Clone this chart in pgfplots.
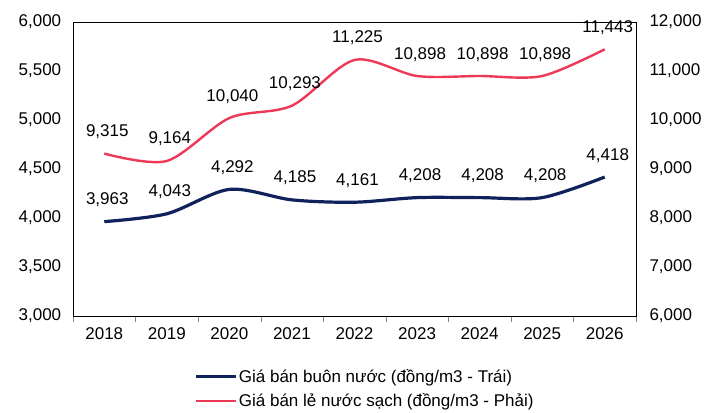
\documentclass[border=0pt]{standalone}
\usepackage{fontspec}
\setmainfont{Liberation Sans}
\usepackage{pgfplots}
\pgfplotsset{compat=1.18}

\definecolor{navy}{RGB}{16,34,92}
\definecolor{rose}{RGB}{238,56,88}

\pgfplotsset{
    base/.style={
        scale only axis,
        width=563pt, height=294pt,
        xmin=-0.5, xmax=8.5,
        font=\fontsize{17}{19}\selectfont,
        scaled y ticks=false,
        /pgf/number format/assume math mode=true,
        /pgf/number format/1000 sep={,},
        /pgf/number format/fixed,
        /pgf/number format/precision=0,
        nodes near coords,
        every node near coord/.append style={black, anchor=base, yshift=17pt, xshift=3pt,
            inner sep=0pt, font=\fontsize{17}{19}\selectfont},
    },
}

\begin{document}
\begin{tikzpicture}
    \begin{axis}[
        base,
        ymin=3000, ymax=6000,
        ytick distance=500,
        xtick={0,...,8},
        xticklabels={2018,2019,2020,2021,2022,2023,2024,2025,2026},
        major x tick style={draw=none},
        minor xtick={-0.5,0.5,...,8.5},
        minor tick length=6pt,
        tick align=outside,
        xtick pos=bottom,
        ytick style={draw=none},
        yticklabel style={xshift=-4pt},
        xticklabel style={yshift=-4pt},
        legend style={at={(0.518,-0.176)}, anchor=north, draw=none,
            legend cell align=left, row sep=8pt, inner sep=0pt,
            nodes={inner sep=1pt},
            font=\fontsize{17}{19}\selectfont},
        legend image code/.code={\draw[#1] (0pt,0pt) -- (40pt,0pt);},
    ]
        \coordinate (bl) at (rel axis cs:0,0);
        \coordinate (tr) at (rel axis cs:1,1);
        \addplot[navy, line width=3.2pt, smooth] coordinates {
            (0,3963) (1,4043) (2,4292) (3,4185) (4,4161)
            (5,4208) (6,4208) (7,4208) (8,4418)
        };
        \addlegendentry{Giá bán buôn nước (đồng/m3 - Trái)}
        \addlegendimage{rose, line width=2.4pt}
        \addlegendentry{Giá bán lẻ nước sạch (đồng/m3 - Phải)}
    \end{axis}
    \begin{axis}[
        base,
        ymin=6000, ymax=12000,
        ytick distance=1000,
        axis x line=none,
        axis y line*=right,
        ytick style={draw=none},
        yticklabel style={xshift=10pt},
    ]
        \addplot[rose, line width=2.4pt, smooth] coordinates {
            (0,9315) (1,9164) (2,10040) (3,10293) (4,11225)
            (5,10898) (6,10898) (7,10898) (8,11443)
        };
    \end{axis}
    \pgfresetboundingbox
    \path ([shift={(-73pt,-96pt)}]bl) rectangle ([shift={(82pt,22pt)}]tr);
\end{tikzpicture}
\end{document}
